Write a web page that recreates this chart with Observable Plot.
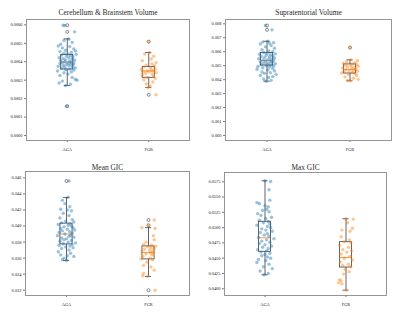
<!DOCTYPE html>
<html>
<head>
<meta charset="utf-8">
<script src="https://cdn.jsdelivr.net/npm/d3@7"></script>
<script src="https://cdn.jsdelivr.net/npm/@observablehq/plot@0.6"></script>
<style>
  html, body { margin: 0; padding: 0; background: #fff; }
  #wrap { position: relative; width: 400px; height: 317px; overflow: hidden; background: #fff; }
  #wrap svg { position: absolute; }
</style>
</head>
<body>
<div id="wrap"></div>
<script>
// ---------- data ----------
const groups = ["AGA", "FGR"];
const titles = ["Cerebellum & Brainstem Volume", "Supratentorial Volume", "Mean GIC", "Max GIC"];

// Panel 1: Cerebellum & Brainstem Volume
const p1Ticks = [0, 0.0001, 0.0002, 0.0003, 0.0004, 0.0005, 0.0006];
const p1Aga = [0.000598, 0.000597, 0.000562, 0.000522, 0.000515, 0.000505, 0.000495, 0.000485, 0.000482, 0.000475, 0.000470, 0.000462, 0.000458, 0.000455, 0.000450, 0.000446, 0.000442, 0.000440, 0.000436, 0.000433, 0.000430, 0.000427, 0.000422, 0.000420, 0.000417, 0.000414, 0.000410, 0.000408, 0.000405, 0.000402, 0.000400, 0.000398, 0.000396, 0.000394, 0.000392, 0.000390, 0.000388, 0.000385, 0.000383, 0.000380, 0.000378, 0.000375, 0.000372, 0.000370, 0.000367, 0.000364, 0.000360, 0.000358, 0.000355, 0.000350, 0.000345, 0.000340, 0.000333, 0.000325, 0.000315, 0.000305, 0.000300, 0.000295, 0.000285, 0.000278, 0.000271, 0.000159];
const p1AgaJitter = [-0.05, -0.03, 0.09, 0.02, -0.04, 0.06, -0.08, -0.11, 0.03, -0.06, 0.08, -0.02, 0.10, -0.09, 0.05, -0.04, 0.01, 0.11, -0.07, 0.04, -0.01, 0.07, -0.10, 0.02, -0.05, 0.06, -0.02, 0.09, -0.08, 0.03, -0.03, 0.05, -0.06, 0.01, 0.08, -0.09, 0.04, -0.01, 0.07, -0.05, 0.02, -0.11, 0.06, -0.03, 0.10, -0.07, 0.03, -0.02, 0.08, -0.12, 0.05, -0.04, 0.01, -0.09, 0.06, 0.10, 0.12, -0.06, -0.10, 0.04, -0.02, -0.01];
const p1Fgr = [0.000509, 0.000450, 0.000442, 0.000430, 0.000415, 0.000405, 0.000395, 0.000388, 0.000382, 0.000378, 0.000372, 0.000368, 0.000362, 0.000358, 0.000355, 0.000352, 0.000350, 0.000348, 0.000345, 0.000342, 0.000338, 0.000333, 0.000328, 0.000322, 0.000315, 0.000310, 0.000302, 0.000290, 0.000280, 0.000268, 0.000260, 0.000221];
const p1FgrJitter = [0.00, 0.01, -0.05, 0.06, 0.03, -0.08, 0.09, 0.04, -0.03, 0.07, -0.06, 0.02, 0.08, -0.09, 0.03, -0.02, 0.05, -0.07, 0.00, 0.09, -0.04, 0.04, -0.08, 0.06, -0.02, 0.08, -0.06, 0.05, -0.03, 0.02, -0.01, 0.09];
const p1AgaBox = [0.000271, 0.000358, 0.000398, 0.000436, 0.000524];
const p1FgrBox = [0.000260, 0.000313, 0.000350, 0.000372, 0.000450];
const p1AgaOut = [0.000598, 0.000562, 0.000159];
const p1FgrOut = [0.000509, 0.000221];

// Panel 2: Supratentorial Volume
const p2Ticks = [0, 0.001, 0.002, 0.003, 0.004, 0.005, 0.006, 0.007, 0.008];
const p2Aga = [0.00788, 0.00757, 0.00675, 0.00670, 0.00665, 0.00660, 0.00655, 0.00645, 0.00635, 0.00625, 0.00615, 0.00605, 0.00600, 0.00595, 0.00590, 0.00585, 0.00582, 0.00578, 0.00575, 0.00570, 0.00566, 0.00562, 0.00558, 0.00555, 0.00550, 0.00547, 0.00544, 0.00540, 0.00537, 0.00534, 0.00530, 0.00527, 0.00524, 0.00520, 0.00517, 0.00514, 0.00510, 0.00507, 0.00504, 0.00501, 0.00498, 0.00494, 0.00490, 0.00485, 0.00480, 0.00475, 0.00470, 0.00462, 0.00455, 0.00450, 0.00445, 0.00438, 0.00430, 0.00422, 0.00415, 0.00405, 0.00395, 0.00389];
const p2AgaJitter = [-0.02, 0.06, 0.01, -0.05, 0.08, 0.03, -0.08, 0.05, -0.02, 0.09, -0.06, 0.02, 0.07, -0.04, 0.00, 0.10, -0.09, 0.04, -0.01, 0.07, -0.07, 0.03, -0.03, 0.09, -0.10, 0.05, 0.01, -0.05, 0.08, -0.02, 0.04, -0.08, 0.06, 0.00, -0.04, 0.10, 0.02, -0.07, 0.05, -0.01, 0.08, -0.11, 0.03, -0.05, 0.07, -0.12, 0.01, 0.09, -0.06, 0.04, -0.03, 0.11, -0.08, 0.07, 0.02, -0.04, 0.05, -0.01];
const p2Fgr = [0.00630, 0.00542, 0.00535, 0.00528, 0.00522, 0.00518, 0.00512, 0.00508, 0.00504, 0.00500, 0.00496, 0.00492, 0.00488, 0.00484, 0.00480, 0.00476, 0.00472, 0.00468, 0.00464, 0.00460, 0.00456, 0.00452, 0.00448, 0.00444, 0.00438, 0.00430, 0.00420, 0.00410, 0.00402, 0.00395, 0.00392];
const p2FgrJitter = [0.00, 0.01, 0.09, -0.04, 0.06, -0.08, 0.03, 0.08, -0.06, 0.01, 0.10, -0.03, 0.05, -0.09, 0.02, 0.07, -0.05, 0.04, -0.01, 0.09, -0.07, 0.03, -0.10, 0.06, -0.02, 0.08, -0.06, 0.04, 0.10, -0.03, 0.00];
const p2AgaBox = [0.00389, 0.00501, 0.00537, 0.00591, 0.00675];
const p2FgrBox = [0.00392, 0.00444, 0.00473, 0.00509, 0.00542];
const p2AgaOut = [0.00788, 0.00757];
const p2FgrOut = [0.00630];

// Panel 3: Mean GIC
const p3Ticks = [0.032, 0.034, 0.036, 0.038, 0.040, 0.042, 0.044, 0.046];
const p3Aga = [0.04562, 0.0436, 0.0432, 0.0428, 0.0424, 0.0421, 0.0420, 0.0419, 0.0416, 0.0413, 0.0410, 0.0408, 0.0406, 0.0405, 0.0404, 0.0403, 0.0402, 0.0401, 0.0400, 0.0399, 0.0398, 0.0397, 0.0396, 0.0395, 0.0394, 0.0393, 0.0392, 0.0391, 0.0390, 0.03885, 0.0388, 0.0387, 0.0386, 0.0385, 0.0384, 0.0383, 0.0382, 0.0381, 0.0380, 0.0379, 0.0378, 0.0377, 0.0376, 0.0375, 0.0374, 0.0373, 0.0372, 0.0370, 0.0368, 0.0366, 0.0364, 0.0363, 0.0362, 0.0360, 0.0358, 0.03571];
const p3AgaJitter = [0.03, 0.02, -0.05, -0.02, 0.04, -0.07, 0.01, 0.06, -0.04, 0.03, -0.08, 0.07, -0.01, 0.09, -0.06, 0.04, -0.10, 0.02, 0.06, -0.03, 0.08, -0.07, 0.01, 0.10, -0.05, 0.04, -0.09, 0.07, -0.02, 0.05, -0.11, 0.03, 0.09, -0.06, 0.00, -0.03, 0.06, -0.08, 0.02, 0.11, -0.04, 0.07, -0.09, 0.04, -0.01, 0.08, -0.06, 0.03, -0.10, 0.05, -0.07, 0.01, 0.09, -0.03, -0.05, 0.00];
const p3Fgr = [0.04075, 0.0401, 0.0398, 0.0397, 0.0388, 0.0383, 0.0380, 0.0377, 0.0376, 0.0375, 0.0374, 0.0373, 0.0372, 0.0371, 0.0370, 0.0369, 0.0368, 0.0367, 0.0366, 0.0365, 0.0364, 0.0362, 0.0360, 0.0359, 0.0358, 0.0355, 0.0351, 0.0349, 0.0345, 0.0341, 0.0338, 0.03371, 0.0320];
const p3FgrJitter = [0.07, 0.00, -0.08, 0.08, 0.06, 0.07, -0.03, -0.06, 0.04, 0.09, -0.01, 0.03, 0.07, -0.05, 0.01, 0.05, -0.08, 0.02, 0.06, -0.03, 0.04, -0.07, 0.02, -0.09, 0.05, -0.02, -0.06, 0.03, 0.07, -0.06, -0.07, -0.01, 0.08];
const p3AgaBox = [0.03571, 0.03771, 0.0390, 0.0403, 0.04355];
const p3FgrBox = [0.03371, 0.03584, 0.0367, 0.03746, 0.0398];
const p3AgaOut = [0.04562];
const p3FgrOut = [0.04075, 0.0401, 0.0320];

// Panel 4: Max GIC
const p4Ticks = [0.04, 0.0425, 0.045, 0.0475, 0.05, 0.0525, 0.055, 0.0575];
const p4Aga = [0.05766, 0.05755, 0.0562, 0.0545, 0.0541, 0.0539, 0.0536, 0.0534, 0.0530, 0.0528, 0.0526, 0.0523, 0.0520, 0.0517, 0.0515, 0.0512, 0.0510, 0.0508, 0.0506, 0.0504, 0.0502, 0.0500, 0.0498, 0.0496, 0.0494, 0.0492, 0.0490, 0.0488, 0.0486, 0.0484, 0.0482, 0.0480, 0.0478, 0.0476, 0.0474, 0.0472, 0.0470, 0.0468, 0.0466, 0.0464, 0.0462, 0.0460, 0.0458, 0.0456, 0.0454, 0.0452, 0.0450, 0.0448, 0.0446, 0.0443, 0.0440, 0.0436, 0.0433, 0.0429, 0.0425, 0.04229];
const p4AgaJitter = [0.00, 0.07, 0.05, 0.06, -0.10, -0.07, 0.00, 0.04, 0.02, -0.03, 0.05, -0.09, -0.05, 0.08, 0.01, -0.07, 0.04, -0.02, 0.06, -0.10, 0.03, 0.07, -0.04, 0.01, 0.09, -0.06, 0.03, -0.01, 0.05, -0.08, 0.11, 0.02, -0.04, 0.06, -0.07, 0.00, 0.08, -0.03, 0.04, -0.09, 0.02, -0.05, 0.06, 0.00, -0.04, 0.03, 0.07, -0.08, 0.01, -0.10, 0.05, -0.02, 0.09, -0.06, 0.04, -0.01];
const p4Fgr = [0.05145, 0.0514, 0.0508, 0.0499, 0.0496, 0.0494, 0.0485, 0.0480, 0.0477, 0.0475, 0.0471, 0.0468, 0.0464, 0.0462, 0.0460, 0.0457, 0.0453, 0.0450, 0.0447, 0.0444, 0.0440, 0.0438, 0.0436, 0.0432, 0.0428, 0.0424, 0.0415, 0.0413, 0.0410, 0.0408, 0.03977];
const p4FgrJitter = [0.00, 0.09, 0.02, 0.08, -0.05, 0.05, -0.06, 0.04, -0.02, 0.06, -0.08, 0.03, -0.04, 0.07, 0.01, -0.06, 0.05, -0.02, 0.08, -0.07, 0.03, -0.04, 0.06, -0.01, 0.04, -0.03, -0.08, -0.06, -0.09, -0.05, 0.00];
const p4AgaBox = [0.04229, 0.04605, 0.04834, 0.05096, 0.05766];
const p4FgrBox = [0.03977, 0.04348, 0.04512, 0.04762, 0.05145];
const p4AgaOut = [];
const p4FgrOut = [];

// ---------- drawing ----------
const BLUE = "#1f77b4", ORANGE = "#ff7f0e", EDGE = "#3c3c3c";
const HALF_BOX = 0.074, HALF_CAP = 0.037;

function panel(cfg) {
  const pts = [
    ...cfg.aga.map((v, i) => ({g: 0, v, j: cfg.agaJ[i]})),
    ...cfg.fgr.map((v, i) => ({g: 1, v, j: cfg.fgrJ[i]}))
  ];
  const boxes = [{g: 0, b: cfg.agaBox}, {g: 1, b: cfg.fgrBox}];
  const outs = [...cfg.agaOut.map(v => ({g: 0, v})), ...cfg.fgrOut.map(v => ({g: 1, v}))];
  const svg = Plot.plot({
    width: 200,
    height: cfg.height,
    marginLeft: cfg.m[0], marginRight: cfg.m[1], marginTop: cfg.m[2], marginBottom: cfg.m[3],
    x: {domain: [-0.5, 1.5], axis: null},
    y: {domain: cfg.domain, axis: null},
    style: {fontFamily: "'Liberation Serif', 'DejaVu Serif', serif", fontSize: "4.4px", color: "#222", background: "white", overflow: "visible"},
    marks: [
      Plot.axisY({ticks: cfg.ticks, tickFormat: d => d.toFixed(cfg.dec), tickSize: 2, tickPadding: 2, fontSize: 4.4, strokeWidth: 0.6, label: null}),
      Plot.axisX({ticks: [0, 1], tickFormat: i => groups[i], tickSize: 2, tickPadding: 5, fontSize: 4.4, strokeWidth: 0.6, label: null}),
      Plot.ruleX(boxes, {x: "g", y1: d => d.b[0], y2: d => d.b[1], stroke: EDGE, strokeWidth: 0.8}),
      Plot.ruleX(boxes, {x: "g", y1: d => d.b[3], y2: d => d.b[4], stroke: EDGE, strokeWidth: 0.8}),
      Plot.ruleY(boxes, {y: d => d.b[0], x1: d => d.g - HALF_CAP, x2: d => d.g + HALF_CAP, stroke: EDGE, strokeWidth: 0.8}),
      Plot.ruleY(boxes, {y: d => d.b[4], x1: d => d.g - HALF_CAP, x2: d => d.g + HALF_CAP, stroke: EDGE, strokeWidth: 0.8}),
      Plot.rect(boxes, {x1: d => d.g - HALF_BOX, x2: d => d.g + HALF_BOX, y1: d => d.b[1], y2: d => d.b[3], fill: "none", stroke: EDGE, strokeWidth: 0.8}),
      Plot.ruleY(boxes, {y: d => d.b[2], x1: d => d.g - HALF_BOX, x2: d => d.g + HALF_BOX, stroke: ORANGE, strokeWidth: 0.8}),
      Plot.dot(outs, {x: "g", y: "v", r: 1.5, fill: "none", stroke: EDGE, strokeWidth: 0.6}),
      Plot.dot(pts, {x: d => d.g + d.j, y: "v", r: 1.7, fill: d => d.g ? ORANGE : BLUE, fillOpacity: 0.45, stroke: "none"}),
      Plot.frame({stroke: "#8a8a8a", strokeWidth: 0.9}),
      Plot.text([cfg.title], {frameAnchor: "top", dy: cfg.titleDy, lineAnchor: "middle", fontSize: 7.4, fontWeight: "normal", fill: "#2a2a2a"})
    ]
  });
  svg.style.left = cfg.left + "px";
  svg.style.top = cfg.top + "px";
  document.getElementById("wrap").appendChild(svg);
}

panel({title: titles[0], aga: p1Aga, agaJ: p1AgaJitter, fgr: p1Fgr, fgrJ: p1FgrJitter, agaBox: p1AgaBox, fgrBox: p1FgrBox, agaOut: p1AgaOut, fgrOut: p1FgrOut,
  domain: [-0.000027, 0.000629], ticks: p1Ticks, dec: 4, height: 158, m: [26, 11, 19, 18], left: 0, top: 0, titleDy: -7});
panel({title: titles[1], aga: p2Aga, agaJ: p2AgaJitter, fgr: p2Fgr, fgrJ: p2FgrJitter, agaBox: p2AgaBox, fgrBox: p2FgrBox, agaOut: p2AgaOut, fgrOut: p2FgrOut,
  domain: [-0.00036, 0.00831], ticks: p2Ticks, dec: 3, height: 158, m: [25, 9, 19, 18], left: 200, top: 0, titleDy: -7});
panel({title: titles[2], aga: p3Aga, agaJ: p3AgaJitter, fgr: p3Fgr, fgrJ: p3FgrJitter, agaBox: p3AgaBox, fgrBox: p3FgrBox, agaOut: p3AgaOut, fgrOut: p3FgrOut,
  domain: [0.03134, 0.0468], ticks: p3Ticks, dec: 3, height: 159, m: [25, 11, 13, 22], left: 0, top: 158, titleDy: -4});
panel({title: titles[3], aga: p4Aga, agaJ: p4AgaJitter, fgr: p4Fgr, fgrJ: p4FgrJitter, agaBox: p4AgaBox, fgrBox: p4FgrBox, agaOut: p4AgaOut, fgrOut: p4FgrOut,
  domain: [0.0389, 0.05902], ticks: p4Ticks, dec: 4, height: 159, m: [24, 14, 14, 22], left: 200, top: 158, titleDy: -5});
</script>
</body>
</html>
